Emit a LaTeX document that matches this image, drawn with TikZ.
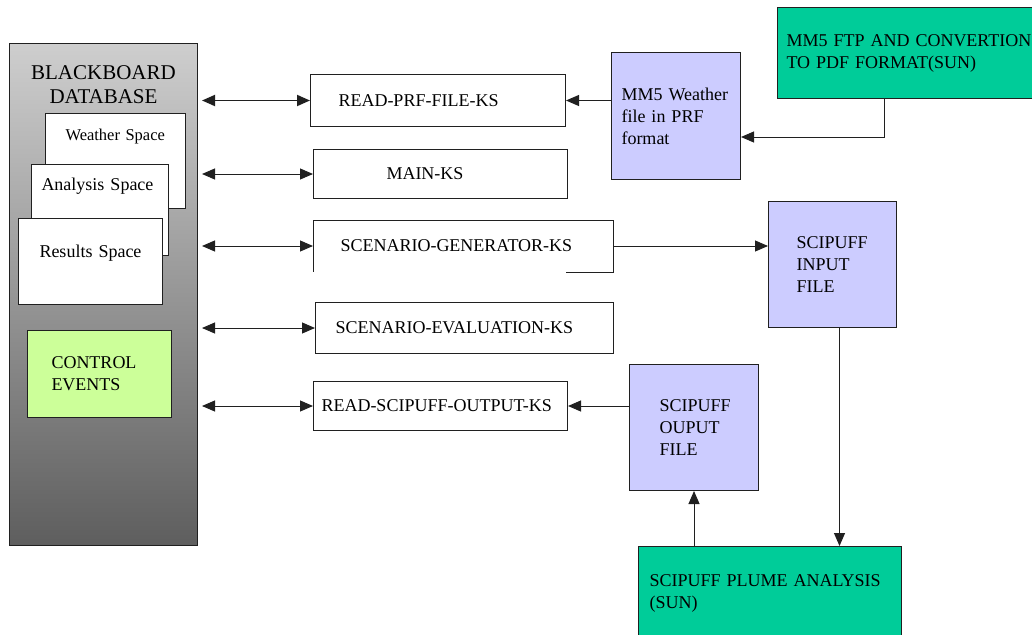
\documentclass[tikz,border=0pt]{standalone}
\usepackage{fontspec}
\setmainfont{Liberation Serif}
\usepackage{xcolor}
\usetikzlibrary{arrows.meta,positioning}

\definecolor{filecol}{HTML}{CCCCFF}
\definecolor{suncol}{HTML}{00CC99}
\definecolor{ctrlcol}{HTML}{CCFF99}
\definecolor{edgecol}{HTML}{202020}

\begin{document}
\begin{tikzpicture}[
  x=1pt, y=-1pt,
  every node/.style={font=\fontsize{18}{22}\selectfont, anchor=north west, inner ysep=0pt, line width=1pt},
  bbox/.style={draw=edgecol, top color={rgb,255:red,206;green,206;blue,206}, bottom color={rgb,255:red,94;green,94;blue,94}, align=center, font=\fontsize{21}{24}\selectfont},
  card/.style={draw=edgecol, fill=white, align=left},
  ctrl/.style={draw=edgecol, fill=ctrlcol, align=left},
  ks/.style={draw=edgecol, fill=white, align=left},
  file/.style={draw=edgecol, fill=filecol, align=left},
  sun/.style={draw=edgecol, fill=suncol, align=left},
  flow/.style={-{Triangle[length=13pt,width=11pt]}, line width=1pt, draw=edgecol},
  dbl/.style={{Triangle[length=13pt,width=11pt]}-{Triangle[length=13pt,width=11pt]}, line width=1pt, draw=edgecol, shorten <=4pt}
]
  \useasboundingbox (0,0) rectangle (1032,634);

  % blackboard and its spaces
  \node[bbox, text width=180pt, inner xsep=4pt, text height=36pt, text depth=466pt] (bb) at (9,43) {BLACKBOARD\\DATABASE};
  \node[card, text width=100pt, inner xsep=20pt, text height=27pt, text depth=68pt, font=\fontsize{16.5}{20}\selectfont] (wsp) at (45,113) {Weather Space};
  \node[card, text width=117pt, inner xsep=10pt, text height=26pt, text depth=65pt] (asp) at (31,164) {Analysis Space};
  \node[card, text width=102pt, inner xsep=21pt, text height=39pt, text depth=47pt] (rsp) at (18,218) {Results Space};
  \node[ctrl, text width=96pt, inner xsep=24pt, minimum height=87pt] (ctrl) at (27,330) {CONTROL\\EVENTS};

  % knowledge sources
  \node[ks, text width=199pt, inner xsep=28pt, minimum height=52pt] (prf) at (310,74) {READ-PRF-FILE-KS};
  \node[ks, text width=108pt, inner xsep=73pt, minimum height=49pt] (mainks) at (313,149) {MAIN-KS};
  \node[ks, draw=none, text width=245pt, inner xsep=27pt, minimum height=51pt] (gen) at (313,220) {SCENARIO-GENERATOR-KS};
  \node[ks, text width=258pt, inner xsep=20pt, minimum height=51pt] (eval) at (315,302) {SCENARIO-EVALUATION-KS};
  \node[ks, text width=238pt, inner xsep=8pt, minimum height=49pt] (rso) at (313,381) {READ-SCIPUFF-OUTPUT-KS};
  \draw[draw=edgecol, line width=1pt] ([xshift=-47pt]gen.south east) -- (gen.south east) -- (gen.north east) -- (gen.north west) -- (gen.south west);

  % files and external runs
  \node[file, text width=109pt, inner xsep=10pt, minimum height=127pt] (wx) at (611,52) {MM5 Weather\\file in PRF\\format};
  \node[sun, text width=256pt, inner xsep=9pt, minimum height=91pt] (ftp) at (777,7) {MM5 FTP AND CONVERTION\\TO PDF FORMAT(SUN)};
  \node[file, text width=72pt, inner xsep=28pt, minimum height=126pt] (sin) at (768,201) {SCIPUFF\\INPUT\\FILE};
  \node[file, text width=69pt, inner xsep=30pt, minimum height=126pt] (sout) at (629,364) {SCIPUFF\\OUPUT\\FILE};
  \node[sun, text width=241pt, inner xsep=11pt, minimum height=93pt] (plume) at (638,546) {SCIPUFF PLUME ANALYSIS\\(SUN)};

  % blackboard links
  \draw[dbl, line width=1.8pt] (bb.east |- prf.west) -- (prf.west);
  \foreach \ks in {mainks, gen, eval, rso}
    \draw[dbl] (bb.east |- \ks.west) -- (\ks.west);

  % data flow
  \draw[flow] (wx.west |- prf.east) -- (prf.east);
  \draw[flow] ([xshift=107pt]ftp.south west) |- ([yshift=-21pt]wx.east);
  \draw[flow] (gen.east) -- (gen.east -| sin.west);
  \draw[flow] (sout.west |- rso.east) -- (rso.east);
  \draw[flow] ([xshift=7pt]sin.south) -- ([xshift=7pt]sin.south |- plume.north);
  \draw[flow] (plume.north -| sout.south) -- (sout.south);
\end{tikzpicture}
\end{document}
